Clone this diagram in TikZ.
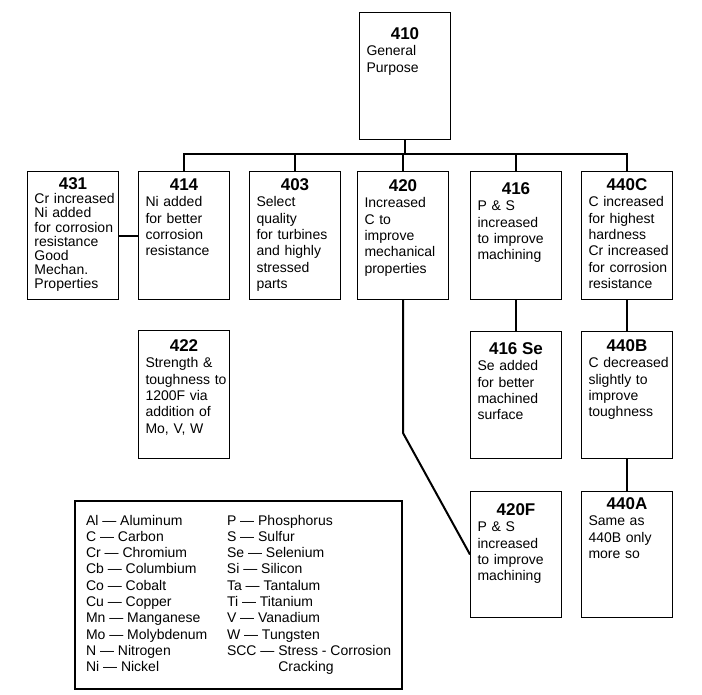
\documentclass[tikz,border=0pt]{standalone}
\usepackage{fontspec}
\setmainfont{Liberation Sans}

\newcommand{\gradetext}[2]{{\centering\fontsize{17}{20}\selectfont\bfseries #1\par}%
  {\leftskip=5.5pt\relax #2\par}}

\begin{document}
\begin{tikzpicture}[
    x=1pt, y=-1pt,
    grade/.style 2 args={draw, line width=1pt, anchor=north west, text width=88pt,
                 inner xsep=1.5pt, inner ysep=3pt, align=left,
                 font=\fontsize{14}{16.3}\selectfont,
                 text height=#1, text depth=#2},
    link/.style={line width=2pt},
  ]
    \useasboundingbox (0,0) rectangle (702,694);

    \node[grade={24pt}{97pt}] (g410) at (359,12) {\gradetext{410}{General\\Purpose}};

    \node[grade={15pt}{107pt}, font=\fontsize{14}{14.2}\selectfont] (g431) at (27,171)
      {\gradetext{431}{Cr increased\\Ni added\\for corrosion\\resistance\\Good\\Mechan.\\Properties}};
    \node[grade={16pt}{106pt}] (g414) at (138,171)
      {\gradetext{414}{Ni added\\for better\\corrosion\\resistance}};
    \node[grade={16pt}{106pt}] (g403) at (249,171)
      {\gradetext{403}{Select\\quality\\for turbines\\and highly\\stressed\\parts}};
    \node[grade={17pt}{105pt}] (g420) at (357,171)
      {\gradetext{420}{Increased\\C to\\improve\\mechanical\\properties}};
    \node[grade={20pt}{102pt}] (g416) at (470,171)
      {\gradetext{416}{P \& S\\increased\\to improve\\machining}};
    \node[grade={16pt}{106pt}] (g440C) at (581,171)
      {\gradetext{440C}{C increased\\for highest\\hardness\\Cr increased\\for corrosion\\resistance}};

    \node[grade={18pt}{104pt}] (g422) at (138,330)
      {\gradetext{422}{Strength \&\\toughness to\\1200F via\\addition of\\Mo, V, W}};
    \node[grade={20pt}{101pt}] (g416Se) at (470,331)
      {\gradetext{416 Se}{Se added\\for better\\machined\\surface}};
    \node[grade={17pt}{104pt}] (g440B) at (581,331)
      {\gradetext{440B}{C decreased\\slightly to\\improve\\toughness}};

    \node[grade={21pt}{99pt}] (g420F) at (470,491)
      {\gradetext{420F}{P \& S\\increased\\to improve\\machining}};
    \node[grade={15pt}{105pt}] (g440A) at (581,491)
      {\gradetext{440A}{Same as\\440B only\\more so}};

    % legend of element symbols
    \node[draw, line width=2.2pt, anchor=north west, minimum width=327pt,
          minimum height=188pt, inner sep=0pt, yshift=-3pt,
          font=\fontsize{14}{16.3}\selectfont] (legend) at (74,497) {%
      \begin{tabular}{@{}p{141pt}@{}l@{}}
        Al — Aluminum & P — Phosphorus\\
        C — Carbon & S — Sulfur\\
        Cr — Chromium & Se — Selenium\\
        Cb — Columbium & Si — Silicon\\
        Co — Cobalt & Ta — Tantalum\\
        Cu — Copper & Ti — Titanium\\
        Mn — Manganese & V — Vanadium\\
        Mo — Molybdenum & W — Tungsten\\
        N — Nitrogen & SCC — Stress - Corrosion\\
        Ni — Nickel & \phantom{SCC — }Cracking
      \end{tabular}};

    % tree
    \coordinate (bus) at (0,154);
    \draw[link] (g410.south) -- (g410.south |- bus);
    \draw[link] (g414.north) |- (g440C.north |- bus) -- (g440C.north);
    \foreach \g in {g403, g420, g416}
      \draw[link] (\g.north) -- (\g.north |- bus);
    \draw[link] (g431.east) -- (g414.west);
    \draw[link] (g416.south) -- (g416Se.north);
    \draw[link] (g440C.south) -- (g440B.north);
    \draw[link] (g440B.south) -- (g440A.north);
    \draw[link] (g420.south) -- ++(0,133) -- (g420F.west);
  \end{tikzpicture}
\end{document}
